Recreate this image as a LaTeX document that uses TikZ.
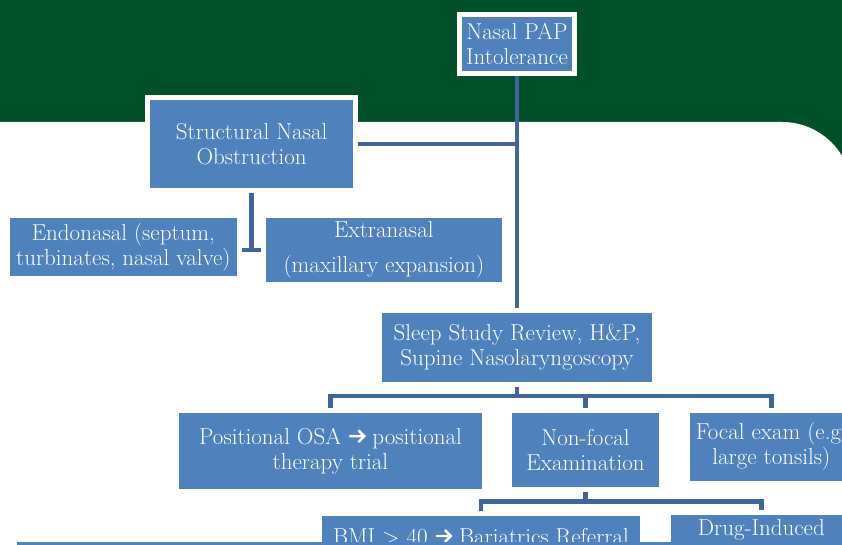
\documentclass[tikz,border=0pt]{standalone}
\usepackage{fontspec}
\definecolor{bandgreen}{RGB}{0,81,42}
\definecolor{boxblue}{RGB}{79,129,189}
\definecolor{linkblue}{RGB}{63,101,154}
% heavy arrow with an open chevron head, set inline with the text
\newcommand{\chevarrow}{\tikz[baseline={(0,-8pt)}, x=1pt, y=1pt]{%
  \draw[white, line width=2.4pt, line join=miter] (0,0) -- (15,0) (9,6) -- (15,0) -- (9,-6);}}
\begin{document}
\begin{tikzpicture}[x=1pt,y=-1pt,
  box/.style={rectangle, fill=boxblue, preaction={draw=white, line width=10pt},
    outer sep=5pt, inner sep=0pt, text=white, align=center,
    font=\fontsize{23}{25}\selectfont},
  link/.style={draw=linkblue, line width=4.5pt}]
\useasboundingbox (0,0) rectangle (842,545);
\clip (0,0) rectangle (842,545);

% green title band and the white slide body with its rounded corner
\fill[bandgreen] (0,0) rectangle (842,200);
\fill[white] (-1,122) -- (782,122) .. controls (820.7,122) and (852,153.3) .. (852,192)
  -- (852,546) -- (-1,546) -- cycle;

% boxes
\node[box, minimum width=110pt, minimum height=54pt] (pap) at (517,43.7) {Nasal PAP\\Intolerance};
\node[box, minimum width=202.4pt, minimum height=88.3pt] (struct) at (251.6,144.2) {Structural Nasal\\Obstruction};
\node[box, minimum width=226.7pt, minimum height=57.4pt] (endo) at (123.4,247) {Endonasal (septum,\\turbinates, nasal valve)};
\node[box, minimum width=235.7pt, minimum height=64pt] (extra) at (383.9,250.3) {Extranasal\\[10pt](maxillary expansion)};
\node[box, minimum width=270.6pt, minimum height=69pt] (sleep) at (517,347.2) {Sleep Study Review, H\&P,\\Supine Nasolaryngoscopy};
\node[box, minimum width=302.2pt, minimum height=76.3pt] (posit) at (330.5,450.9) {Positional OSA \chevarrow{} positional\\therapy trial};
\node[box, minimum width=147.9pt, minimum height=74pt] (nonfocal) at (585.5,449.7) {Non-focal\\Examination};
\node[box, minimum width=163.5pt, minimum height=68pt] (focal) at (771.3,446.7) {Focal exam (e.g.\\large tonsils)};
\node[box, anchor=north, minimum width=318pt, text height=28pt, text depth=32pt] (bmi) at (481,511) {BMI > 40 \chevarrow{} Bariatrics Referral};
\node[box, anchor=north, minimum width=181.5pt, text height=20pt, text depth=40pt] (drug) at (761.3,510) {Drug-Induced};

% strip along the lower edge
\fill[boxblue] (17,542.3) rectangle (860,570);

% connectors
\coordinate (jn) at (pap.south |- struct.east);
\draw[link] (pap.south) -- (sleep.north);
\draw[link] (struct.east) -- (jn);

\coordinate (sj) at (0,250);
\draw[link] (struct.south) -- (struct.south |- sj);
\draw[link] (endo.east |- sj) -- (extra.west |- sj);

\coordinate (bar1) at (0,396);
\draw[link] (sleep.south) -- (sleep.south |- bar1);
\draw[link] (posit.north) -- (posit.north |- bar1) -- (focal.north |- bar1) -- (focal.north);
\draw[link] (nonfocal.north) -- (nonfocal.north |- bar1);

\coordinate (bar2) at (0,501.7);
\draw[link] (nonfocal.south) -- (nonfocal.south |- bar2);
\draw[link] (bmi.north) -- (bmi.north |- bar2) -- (drug.north |- bar2) -- (drug.north);
\end{tikzpicture}
\end{document}
